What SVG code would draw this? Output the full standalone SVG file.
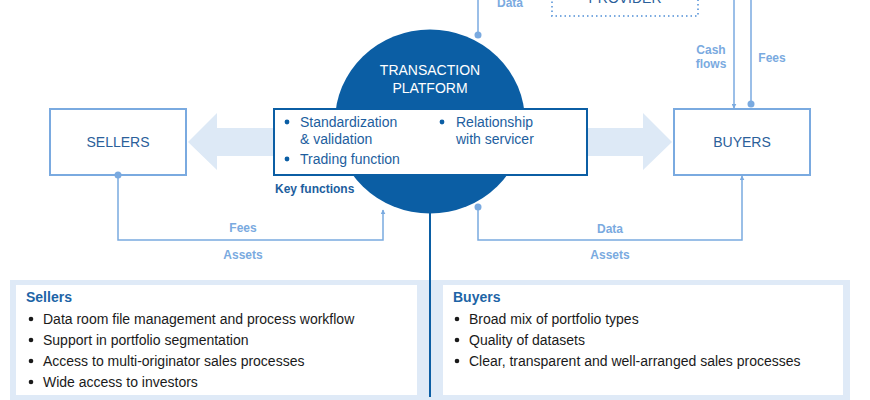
<svg xmlns="http://www.w3.org/2000/svg" width="870" height="400" viewBox="0 0 870 400">
<defs>
<style>
.box{fill:#fff;stroke:#7aaae0;stroke-width:2}
.lbl{font-family:"Liberation Sans",Arial,sans-serif;font-size:14px;fill:#2b609a;text-anchor:middle}
.fl{font-family:"Liberation Sans",Arial,sans-serif;font-size:12px;font-weight:bold;fill:#7aaae0;text-anchor:middle}
.conn{fill:none;stroke:#7aaae0;stroke-width:1.5}
.dot{fill:#7aaae0}
.kf{font-family:"Liberation Sans",Arial,sans-serif;font-size:14px;fill:#1d5e9e}
.hd{font-family:"Liberation Sans",Arial,sans-serif;font-size:14px;font-weight:bold;fill:#1d64a6}
.it{font-family:"Liberation Sans",Arial,sans-serif;font-size:14px;fill:#1a1a1a}
.big{fill:#dde9f6}
</style>
<marker id="ah" viewBox="0 0 8 8" refX="7" refY="4" markerWidth="5" markerHeight="5" orient="auto" markerUnits="userSpaceOnUse">
<path d="M0,0 L8,4 L0,8 z" fill="#7aaae0"/>
</marker>
</defs>

<g id="panel">
<rect x="10" y="280" width="840" height="125" fill="#dfeaf7"/>
<rect x="16" y="285" width="401" height="110" fill="#fff"/>
<rect x="443" y="285" width="400" height="110" fill="#fff"/>
</g>

<g id="big-arrows">
<path class="big" d="M275,128 L217,128 L217,113 L188,142 L217,170 L217,156 L275,156 z"/>
<path class="big" d="M587,128 L643,128 L643,113 L672,142 L643,170 L643,156 L587,156 z"/>
</g>

<g id="platform">
<ellipse cx="430" cy="121.5" rx="95" ry="92" fill="#0b5ea4"/>
<text x="430" y="75" class="lbl" style="fill:#fff">TRANSACTION</text>
<text x="430" y="93" class="lbl" style="fill:#fff">PLATFORM</text>
</g>

<g id="key-functions">
<rect x="274" y="109" width="313" height="66" fill="#fff" stroke="#0b5ea4" stroke-width="2"/>
<circle cx="287" cy="122" r="2.4" fill="#0b5ea4"/>
<text x="300" y="127" class="kf">Standardization</text>
<text x="300" y="144" class="kf">&amp; validation</text>
<circle cx="287" cy="159" r="2.4" fill="#0b5ea4"/>
<text x="300" y="164" class="kf">Trading function</text>
<circle cx="442" cy="122" r="2.4" fill="#0b5ea4"/>
<text x="456" y="127" class="kf">Relationship</text>
<text x="456" y="144" class="kf">with servicer</text>
<text x="275" y="193" class="kf" style="font-size:12px;font-weight:bold">Key functions</text>
</g>

<g id="sellers">
<rect class="box" x="50" y="109" width="136" height="66"/>
<text x="118" y="147" class="lbl">SELLERS</text>
</g>

<g id="buyers">
<rect class="box" x="674" y="109" width="136" height="66"/>
<text x="742" y="147" class="lbl">BUYERS</text>
</g>

<g id="provider">
<rect x="552" y="-30" width="146" height="46" fill="none" stroke="#7aaae0" stroke-width="2" stroke-dasharray="1.5,3"/>
<text x="625" y="3" class="lbl">PROVIDER</text>
</g>

<g id="connectors">
<path class="conn" d="M118,175 V240 H383 V210" marker-end="url(#ah)"/>
<circle class="dot" cx="118" cy="175" r="3.5"/>
<path class="conn" d="M478,207 V240 H742 V176" marker-end="url(#ah)"/>
<circle class="dot" cx="478" cy="207" r="3.5"/>
<path class="conn" d="M478,0 V35"/>
<circle class="dot" cx="478" cy="35" r="3.5"/>
<path class="conn" d="M734,0 V108" marker-end="url(#ah)"/>
<path class="conn" d="M751,0 V104"/>
<circle class="dot" cx="751" cy="104" r="3.5"/>
<line x1="430" y1="213" x2="430" y2="397" stroke="#0b5ea4" stroke-width="2"/>
<text x="243" y="232" class="fl">Fees</text>
<text x="243" y="259" class="fl">Assets</text>
<text x="610" y="233" class="fl">Data</text>
<text x="610" y="259" class="fl">Assets</text>
<text x="510" y="7" class="fl">Data</text>
<text x="711" y="54" class="fl">Cash</text>
<text x="711" y="68" class="fl">flows</text>
<text x="772" y="62" class="fl">Fees</text>
</g>

<g id="sellers-benefits">
<text x="26" y="302" class="hd">Sellers</text>
<circle cx="31" cy="319" r="2.3" fill="#1a1a1a"/>
<text x="43" y="324" class="it">Data room file management and process workflow</text>
<circle cx="31" cy="340" r="2.3" fill="#1a1a1a"/>
<text x="43" y="345" class="it">Support in portfolio segmentation</text>
<circle cx="31" cy="361" r="2.3" fill="#1a1a1a"/>
<text x="43" y="366" class="it">Access to multi-originator sales processes</text>
<circle cx="31" cy="382" r="2.3" fill="#1a1a1a"/>
<text x="43" y="387" class="it">Wide access to investors</text>
</g>

<g id="buyers-benefits">
<text x="453" y="302" class="hd">Buyers</text>
<circle cx="457" cy="319" r="2.3" fill="#1a1a1a"/>
<text x="469" y="324" class="it">Broad mix of portfolio types</text>
<circle cx="457" cy="340" r="2.3" fill="#1a1a1a"/>
<text x="469" y="345" class="it">Quality of datasets</text>
<circle cx="457" cy="361" r="2.3" fill="#1a1a1a"/>
<text x="469" y="366" class="it">Clear, transparent and well-arranged sales processes</text>
</g>
</svg>
